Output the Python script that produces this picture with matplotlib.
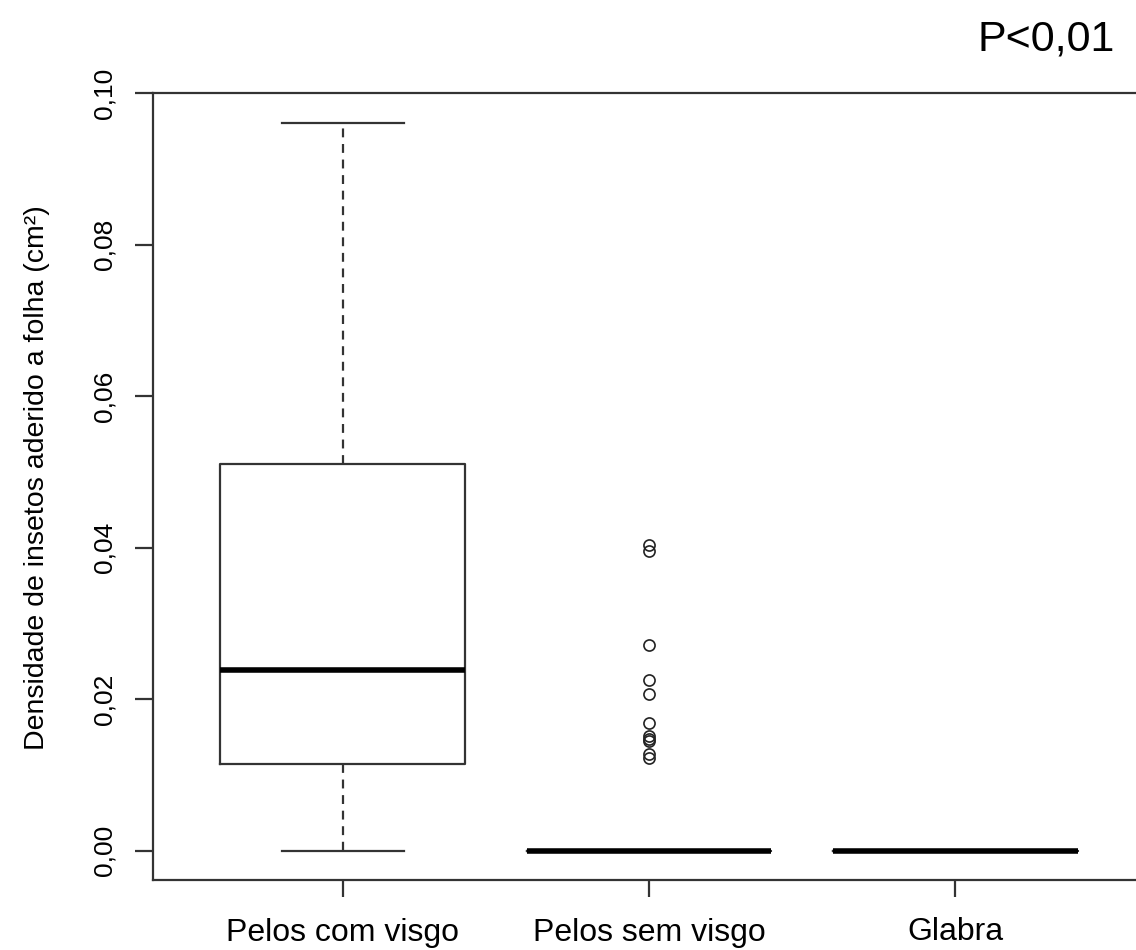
#!/usr/bin/env python3
import matplotlib
matplotlib.use("Agg")
import matplotlib.pyplot as plt
from matplotlib.ticker import FuncFormatter

# Data (box statistics per group)
groups = ["Pelos com visgo", "Pelos sem visgo", "Glabra"]
q1 = [0.0115, 0.0, 0.0]
medians = [0.0238, 0.0, 0.0]
q3 = [0.0510, 0.0, 0.0]
whisker_lo = [0.0, 0.0, 0.0]
whisker_hi = [0.0961, 0.0, 0.0]
outliers = [
    [],
    [0.0403, 0.0395, 0.0272, 0.0226, 0.0207, 0.0169, 0.0152, 0.0148, 0.0145, 0.0128, 0.0122],
    [],
]
y_ticks = [0.00, 0.02, 0.04, 0.06, 0.08, 0.10]

plt.rcParams['font.family'] = ['Liberation Sans', 'DejaVu Sans']

fig = plt.figure(figsize=(11.36, 9.5), dpi=100)
ax = fig.add_axes([153 / 1136, 70 / 950, 992 / 1136, 787 / 950])

# Build the stats objects for bxp from the arrays above
stats = []
for i, name in enumerate(groups):
    stats.append({
        'label': name,
        'q1': q1[i], 'med': medians[i], 'q3': q3[i],
        'whislo': whisker_lo[i], 'whishi': whisker_hi[i],
        'fliers': outliers[i],
    })

line_col = '#333333'
ax.bxp(stats, positions=[1, 2, 3], widths=0.8, showfliers=True,
       boxprops=dict(color=line_col, linewidth=1.6),
       medianprops=dict(color='black', linewidth=4, solid_capstyle='butt'),
       whiskerprops=dict(color=line_col, linewidth=1.6, linestyle=(0, (4, 3))),
       capprops=dict(color=line_col, linewidth=1.6),
       capwidths=0.4,
       flierprops=dict(marker='o', markersize=8, markerfacecolor='none',
                       markeredgecolor='#222222', markeredgewidth=1.2))

ax.set_xlim(0.38, 3.62)
ax.set_ylim(-0.00385, 0.0999)
ax.set_yticks(y_ticks)
ax.yaxis.set_major_formatter(FuncFormatter(lambda v, p: f"{v:.2f}".replace('.', ',')))
ax.set_xticks([1, 2, 3])
ax.set_xticklabels(groups)

for s in ax.spines.values():
    s.set_color(line_col)
    s.set_linewidth(1.6)

ax.tick_params(axis='y', length=13, width=1.6, color=line_col, pad=13, labelsize=19)
ax.tick_params(axis='x', length=12, width=1.6, color=line_col, pad=15, labelsize=23)
for lbl in ax.get_yticklabels():
    lbl.set_rotation(90)
    lbl.set_va('center')

fig.text(37 / 1136, 1 - 478 / 950, "Densidade de insetos aderido a folha (cm²)",
         rotation=90, ha='center', va='center', fontsize=20.5)
fig.text(1115 / 1136, 1 - 50 / 950, "P<0,01", ha='right', va='baseline', fontsize=31)

fig.savefig("out.png", dpi=100)
